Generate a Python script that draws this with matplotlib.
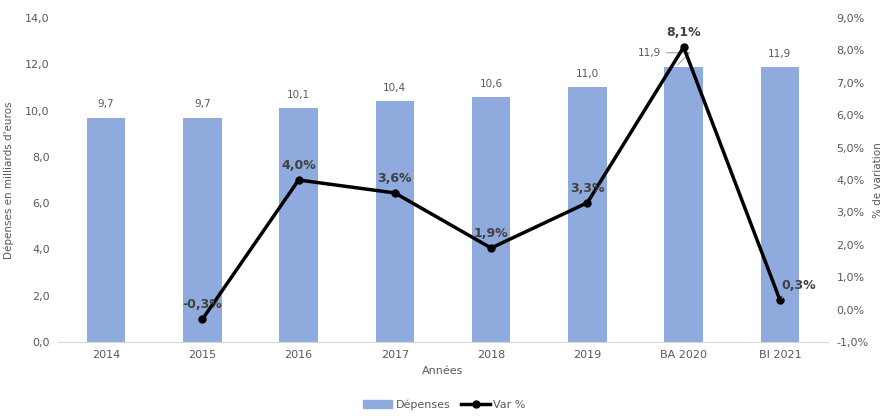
import matplotlib
matplotlib.use("Agg")
import matplotlib.pyplot as plt
from matplotlib.lines import Line2D
from matplotlib.patches import Patch

categories = ["2014", "2015", "2016", "2017", "2018", "2019", "BA 2020", "BI 2021"]
depenses = [9.7, 9.7, 10.1, 10.4, 10.6, 11.0, 11.9, 11.9]
var_pct = [None, -0.3, 4.0, 3.6, 1.9, 3.3, 8.1, 0.3]
left_ticks = [0, 2, 4, 6, 8, 10, 12, 14]
right_ticks = [-1, 0, 1, 2, 3, 4, 5, 6, 7, 8, 9]

plt.rcParams['font.family'] = ['DejaVu Sans']
grey = "#595959"
bar_col = "#8FAADC"

fig = plt.figure(figsize=(8.89, 4.16), dpi=100)
ax = fig.add_axes([0.0652, 0.1779, 0.8662, 0.7788])
x = list(range(len(categories)))
ax.bar(x, depenses, width=0.4, color=bar_col, zorder=2)
ax.set_xlim(-0.5, len(categories) - 0.5)
ax.set_ylim(0, 14)
ax.set_yticks(left_ticks)
ax.set_yticklabels([f"{v:.1f}".replace(".", ",") for v in left_ticks], color=grey, fontsize=8)
ax.set_xticks(x)
ax.set_xticklabels(categories, color=grey, fontsize=8)
ax.tick_params(length=0, pad=6)
for s in ["top", "right", "left"]:
    ax.spines[s].set_visible(False)
ax.spines["bottom"].set_color("#D9D9D9")
ax.set_ylabel("Dépenses en milliards d'euros", color=grey, fontsize=7.5, labelpad=8)
ax.set_xlabel("Années", color=grey, fontsize=8, labelpad=4)

for i, v in enumerate(depenses):
    lbl = f"{v:.1f}".replace(".", ",")
    if categories[i] == "BA 2020":
        ax.annotate(lbl, xy=(i - 0.08, v), xytext=(i - 0.36, v + 0.6), fontsize=7.5, color=grey,
                    ha="center", va="center",
                    arrowprops=dict(arrowstyle="-", color="#A6A6A6", lw=0.8,
                                    connectionstyle="angle,angleA=0,angleB=45,rad=0"))
    else:
        ax.text(i, v + 0.35, lbl, ha="center", va="bottom", fontsize=7.5, color=grey)

ax2 = ax.twinx()
ax2.set_ylim(-1, 9)
ax2.set_yticks(right_ticks)
ax2.set_yticklabels([f"{v:.1f}%".replace(".", ",") for v in right_ticks], color=grey, fontsize=8)
ax2.tick_params(length=0, pad=6)
for s in ["top", "right", "left", "bottom"]:
    ax2.spines[s].set_visible(False)
ax2.set_ylabel("% de variation", color=grey, fontsize=7.5, labelpad=3)

xs = [i for i, v in enumerate(var_pct) if v is not None]
ys = [v for v in var_pct if v is not None]
ax2.plot(xs, ys, color="black", lw=2.5, marker="o", markersize=5, zorder=3)
for i, v in zip(xs, ys):
    lbl = f"{v:.1f}%".replace(".", ",")
    if categories[i] == "BI 2021":
        ax2.annotate(lbl, xy=(i, v), xytext=(i + 0.2, v + 0.45), fontsize=9, color="#404040",
                     fontweight="bold", ha="center", va="center",
                     arrowprops=dict(arrowstyle="-", color="#A6A6A6", lw=0.8))
    else:
        ax2.text(i, v + 0.25, lbl, ha="center", va="bottom", fontsize=9,
                 color="#404040", fontweight="bold")

handles = [Patch(color=bar_col, label="Dépenses"),
           Line2D([0], [0], color="black", lw=2.5, marker="o", markersize=5, label="Var %")]
leg = fig.legend(handles=handles, loc="lower center", bbox_to_anchor=(0.5, -0.01), ncol=2,
                 frameon=False, fontsize=8, handlelength=2.6, columnspacing=1.0, handletextpad=0.3)
for t in leg.get_texts():
    t.set_color(grey)

fig.savefig("out.png", dpi=100)
